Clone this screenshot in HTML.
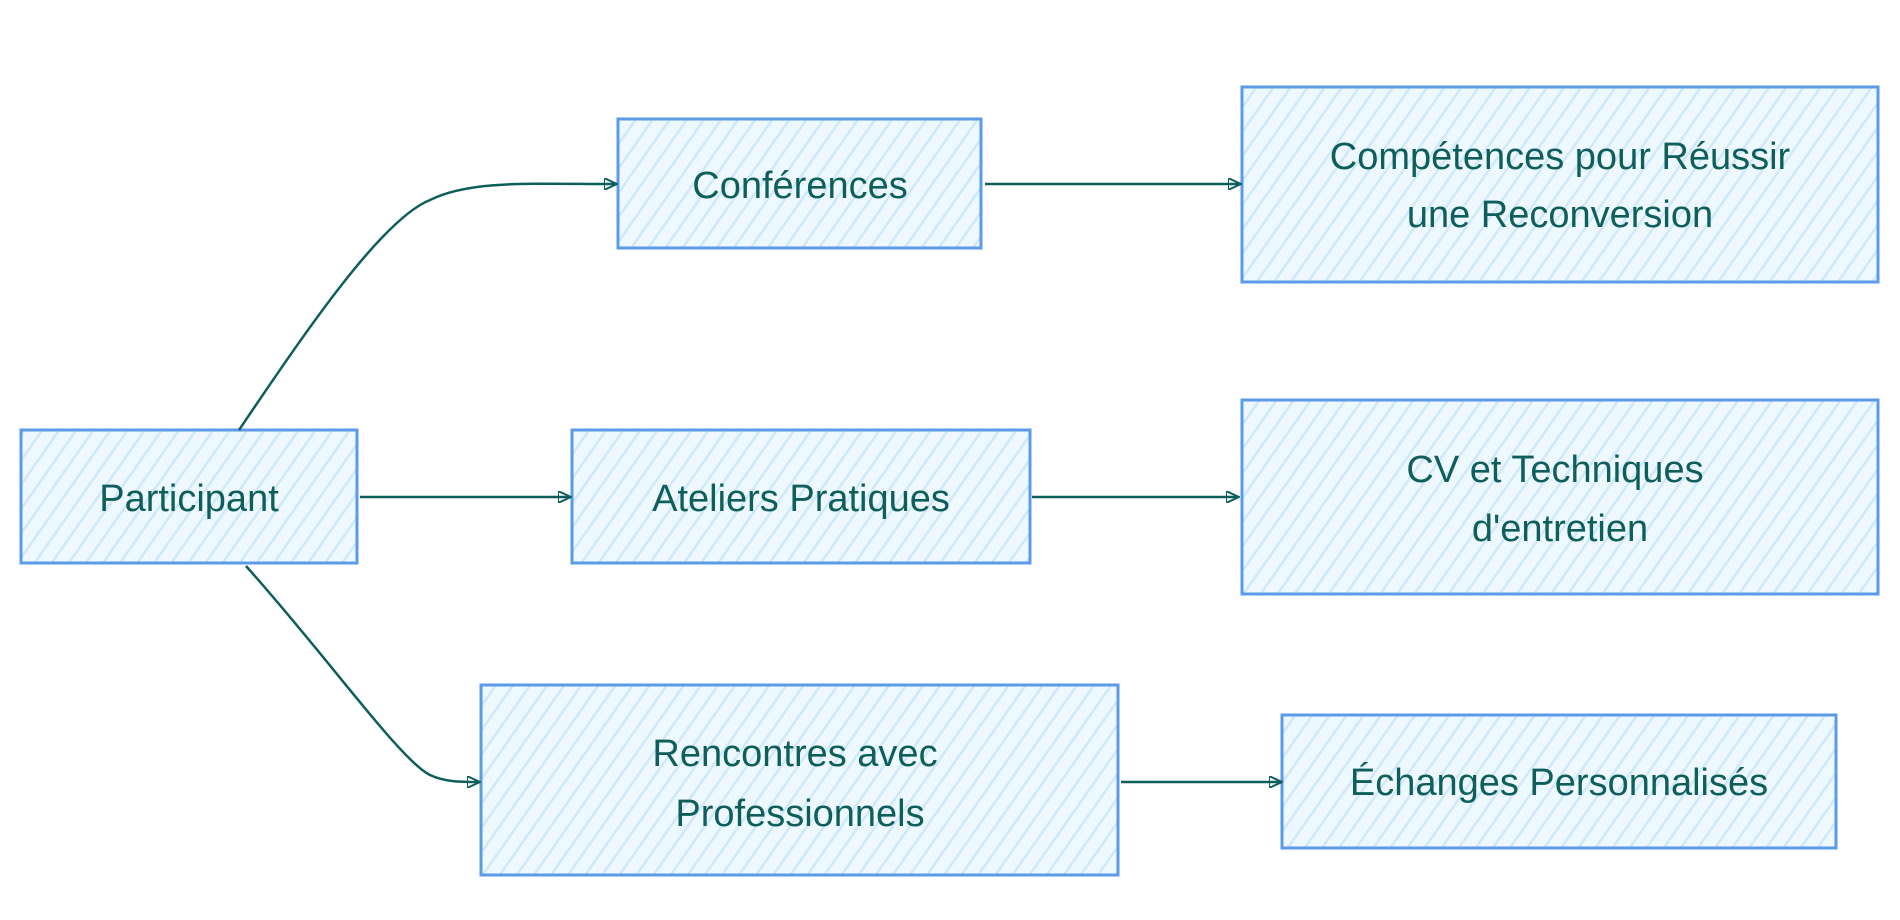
<!DOCTYPE html>
<html><head><meta charset="utf-8"><style>
html,body{margin:0;padding:0;background:#fff;}
svg{display:block;}
text{font-family:"Liberation Sans",sans-serif;font-size:38px;fill:#0e5f5c;text-anchor:middle;}
</style></head><body>
<svg width="1900" height="920" viewBox="0 0 1900 920" xmlns="http://www.w3.org/2000/svg">
<defs>
<pattern id="h" patternUnits="userSpaceOnUse" width="14" height="14" patternTransform="rotate(35)">
<rect width="14" height="14" fill="#eef8ff"/>
<line x1="0" y1="0" x2="0" y2="14" stroke="#cfe9fb" stroke-width="5"/>
</pattern>
<marker id="a" markerWidth="14" markerHeight="12" refX="12" refY="6" orient="auto" markerUnits="userSpaceOnUse">
<path d="M0,0 L13,6 L0,12 Z" fill="none" stroke="#0e5f5c" stroke-width="2"/>
</marker>
</defs>
<g fill="url(#h)" stroke="#5b9be8" stroke-width="3">
<rect x="21" y="430" width="336" height="133"/>
<rect x="618" y="119" width="363" height="129"/>
<rect x="572" y="430" width="458" height="133"/>
<rect x="481" y="685" width="637" height="190"/>
<rect x="1242" y="87" width="636" height="195"/>
<rect x="1242" y="400" width="636" height="194"/>
<rect x="1282" y="715" width="554" height="133"/>
</g>
<g fill="none" stroke="#0e5f5c" stroke-width="2.5" marker-end="url(#a)">
<path d="M239,430 C300,340 380,220 430,200 C470,180 530,184 616,184"/>
<path d="M360,497 L570,497"/>
<path d="M246,566 C330,660 400,760 430,775 C445,782 460,782 479,782"/>
<path d="M985,184 L1240,184"/>
<path d="M1032,497 L1238,497"/>
<path d="M1121,782 L1281,782"/>
</g>
<text x="189" y="511">Participant</text>
<text x="800" y="198">Conférences</text>
<text x="801" y="511">Ateliers Pratiques</text>
<text x="795" y="766">Rencontres avec</text>
<text x="800" y="826">Professionnels</text>
<text x="1560" y="169">Compétences pour Réussir</text>
<text x="1560" y="227">une Reconversion</text>
<text x="1555" y="482">CV et Techniques</text>
<text x="1560" y="541">d'entretien</text>
<text x="1559" y="795">Échanges Personnalisés</text>
</svg>
</body></html>
